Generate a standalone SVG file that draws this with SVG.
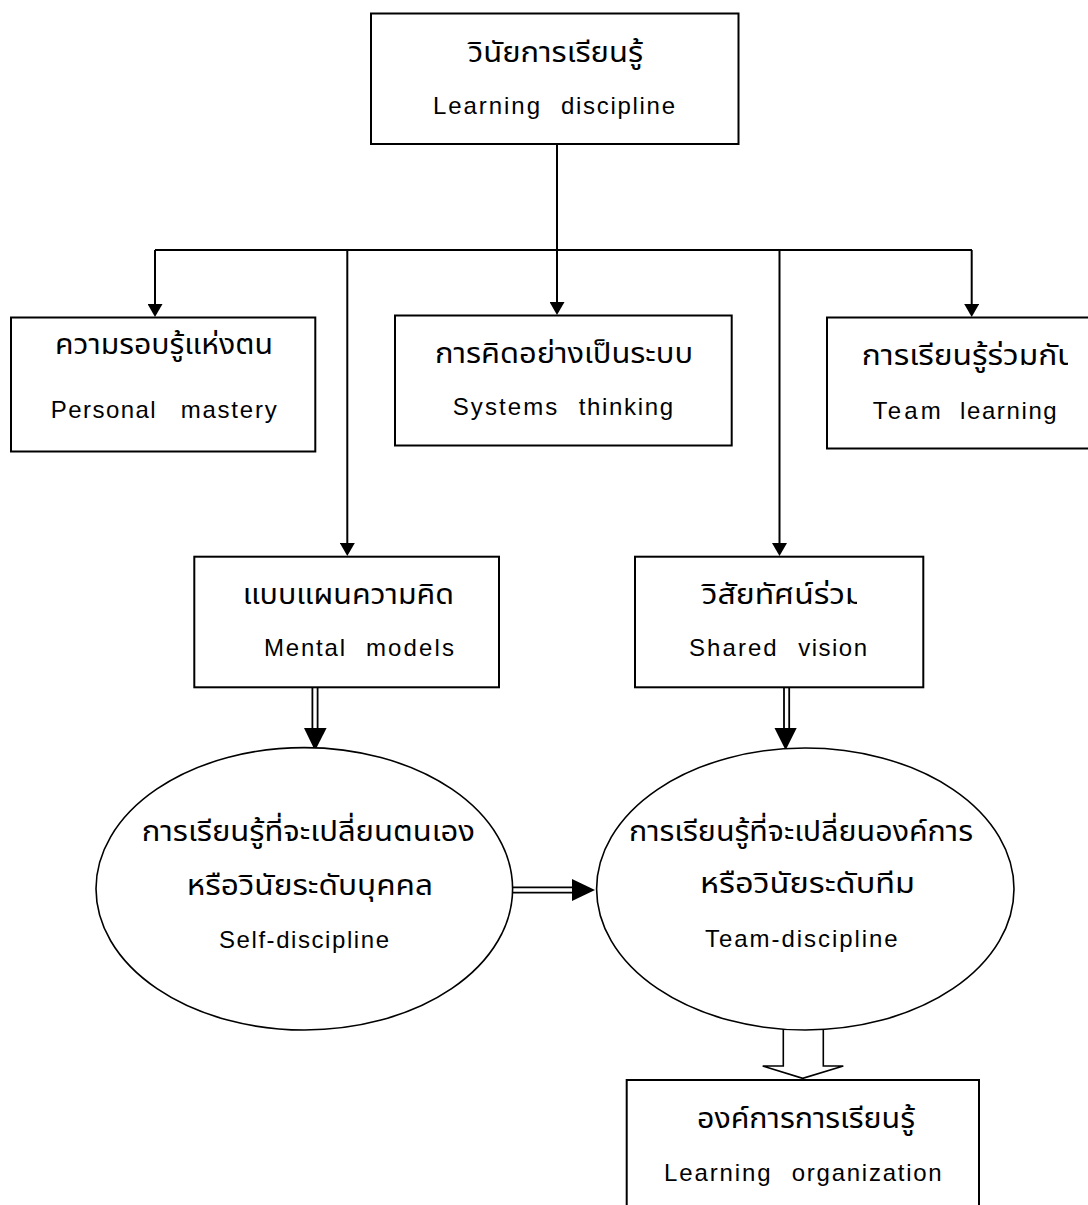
<svg xmlns="http://www.w3.org/2000/svg" width="1088" height="1205" viewBox="0 0 1088 1205">
<style>
.box{fill:#fff;stroke:#000;stroke-width:2}
.ell{fill:#fff;stroke:#000;stroke-width:1.6}
.ln{fill:none;stroke:#000;stroke-width:2}
.dl{fill:none;stroke:#000;stroke-width:1.8}
.head{fill:#000;stroke:none}
.en{font-family:"Liberation Sans",Arial,sans-serif;font-size:24px;fill:#000}
.th{font-family:"Noto Sans Thai","Noto Sans","DejaVu Sans",sans-serif;font-size:28px;fill:#000}
</style>
<defs>
<marker id="arr" viewBox="0 0 13 15" refX="0" refY="7.5" markerWidth="13" markerHeight="15" markerUnits="userSpaceOnUse" orient="auto">
<path d="M0,0 L13,7.5 L0,15 z" fill="#000"/>
</marker>
<clipPath id="clipTeam"><rect x="820" y="320" width="248" height="60"/></clipPath>
<clipPath id="clipShared"><rect x="640" y="570" width="217" height="50"/></clipPath>
</defs>
<rect width="1088" height="1205" fill="#fff"/>
<g id="connectors">
<line class="ln" x1="557" y1="144" x2="557" y2="302" marker-end="url(#arr)"/>
<line class="ln" x1="155" y1="250" x2="972" y2="250"/>
<line class="ln" x1="155" y1="250" x2="155" y2="304" marker-end="url(#arr)"/>
<line class="ln" x1="971.7" y1="250" x2="971.7" y2="304" marker-end="url(#arr)"/>
<line class="ln" x1="347.3" y1="251" x2="347.3" y2="543" marker-end="url(#arr)"/>
<line class="ln" x1="779.5" y1="251" x2="779.5" y2="543" marker-end="url(#arr)"/>
<line class="dl" x1="312.4" y1="687" x2="312.4" y2="729"/>
<line class="dl" x1="317.6" y1="687" x2="317.6" y2="729"/>
<polygon class="head" points="304,728 326.6,728 315,750.7"/>
<line class="dl" x1="784" y1="687" x2="784" y2="729"/>
<line class="dl" x1="789.2" y1="687" x2="789.2" y2="729"/>
<polygon class="head" points="774.5,728 796.7,728 785.6,750.3"/>
<line class="dl" x1="513" y1="887.4" x2="573" y2="887.4"/>
<line class="dl" x1="513" y1="892.6" x2="573" y2="892.6"/>
<polygon class="head" points="572,879 572,901 595,890"/>
<path d="M783.3,1029 V1066 H762.7 L802.7,1078.3 L843.3,1066 H823.3 V1029" fill="#fff" stroke="#000" stroke-width="1.6"/>
</g>
<g id="node-learning-discipline">
<rect class="box" x="371" y="13.5" width="367.5" height="130.5"/>
<text class="th" x="468" y="62" textLength="175" lengthAdjust="spacingAndGlyphs">วินัยการเรียนรู้</text>
<text class="en" y="114"><tspan x="433" textLength="107" lengthAdjust="spacing">Learning</tspan><tspan x="561" textLength="114" lengthAdjust="spacing">discipline</tspan></text>
</g>
<g id="node-personal-mastery">
<rect class="box" x="11" y="317.5" width="304.3" height="134"/>
<text class="th" x="55" y="354" textLength="218" lengthAdjust="spacingAndGlyphs">ความรอบรู้แห่งตน</text>
<text class="en" y="418"><tspan x="50.7" textLength="105" lengthAdjust="spacing">Personal</tspan><tspan x="180.7" textLength="96" lengthAdjust="spacing">mastery</tspan></text>
</g>
<g id="node-systems-thinking">
<rect class="box" x="395" y="315.5" width="336.7" height="130"/>
<text class="th" x="435" y="362.7" textLength="258" lengthAdjust="spacingAndGlyphs">การคิดอย่างเป็นระบบ</text>
<text class="en" y="415"><tspan x="452.7" textLength="104.6" lengthAdjust="spacing">Systems</tspan><tspan x="578.7" textLength="94.3" lengthAdjust="spacing">thinking</tspan></text>
</g>
<g id="node-team-learning">
<rect class="box" x="827" y="317.5" width="275" height="131"/>
<text class="th" x="861.7" y="365" textLength="215" lengthAdjust="spacingAndGlyphs" clip-path="url(#clipTeam)">การเรียนรู้ร่วมกัน</text>
<text class="en" y="419"><tspan x="872.7" textLength="68" lengthAdjust="spacing">Team</tspan><tspan x="960" textLength="96.7" lengthAdjust="spacing">learning</tspan></text>
</g>
<g id="node-mental-models">
<rect class="box" x="194.3" y="556.7" width="304.7" height="130.6"/>
<text class="th" x="242.7" y="604" textLength="211.3" lengthAdjust="spacingAndGlyphs">แบบแผนความคิด</text>
<text class="en" y="656"><tspan x="264" textLength="81" lengthAdjust="spacing">Mental</tspan><tspan x="366" textLength="88" lengthAdjust="spacing">models</tspan></text>
</g>
<g id="node-shared-vision">
<rect class="box" x="635" y="556.7" width="288.3" height="130.6"/>
<text class="th" x="701.7" y="604" textLength="163" lengthAdjust="spacingAndGlyphs" clip-path="url(#clipShared)">วิสัยทัศน์ร่วม</text>
<text class="en" y="656"><tspan x="689" textLength="87.7" lengthAdjust="spacing">Shared</tspan><tspan x="798.3" textLength="68.7" lengthAdjust="spacing">vision</tspan></text>
</g>
<g id="node-self-discipline">
<ellipse class="ell" cx="304.3" cy="888.8" rx="208.3" ry="141.2"/>
<text class="th" x="141.7" y="841" textLength="333.3" lengthAdjust="spacingAndGlyphs">การเรียนรู้ที่จะเปลี่ยนตนเอง</text>
<text class="th" x="186.7" y="895" textLength="246.3" lengthAdjust="spacingAndGlyphs">หรือวินัยระดับบุคคล</text>
<text class="en" x="219" y="948" textLength="170" lengthAdjust="spacing">Self-discipline</text>
</g>
<g id="node-team-discipline">
<ellipse class="ell" cx="805.3" cy="889" rx="208.7" ry="141"/>
<text class="th" x="629" y="841" textLength="344" lengthAdjust="spacingAndGlyphs">การเรียนรู้ที่จะเปลี่ยนองค์การ</text>
<text class="th" x="700" y="893.3" textLength="215" lengthAdjust="spacingAndGlyphs">หรือวินัยระดับทีม</text>
<text class="en" x="705" y="946.7" textLength="192.7" lengthAdjust="spacing">Team-discipline</text>
</g>
<g id="node-learning-organization">
<rect class="box" x="626.7" y="1080" width="352.3" height="140"/>
<text class="th" x="697" y="1128" textLength="218" lengthAdjust="spacingAndGlyphs">องค์การการเรียนรู้</text>
<text class="en" y="1181"><tspan x="664" textLength="106.7" lengthAdjust="spacing">Learning</tspan><tspan x="791.7" textLength="150" lengthAdjust="spacing">organization</tspan></text>
</g>
</svg>
